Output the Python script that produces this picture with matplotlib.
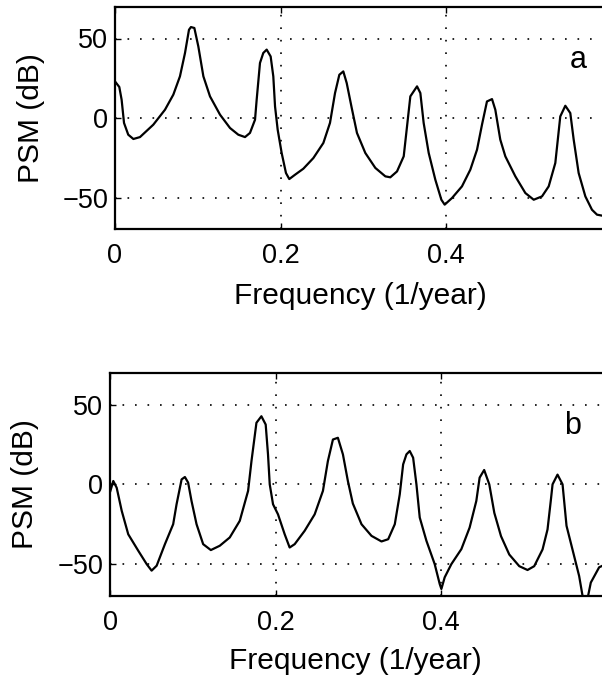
import matplotlib
matplotlib.use("Agg")
import matplotlib.pyplot as plt

plt.rcParams['font.family'] = ['Liberation Sans', 'DejaVu Sans']

# Panel a: frequency (1/year) and PSM (dB)
freq_a = [0, 0.0052, 0.008, 0.0109, 0.016, 0.0222, 0.0302, 0.0463, 0.0604, 0.0705,
          0.0785, 0.0846, 0.0894, 0.0918, 0.0959, 0.1007, 0.1068, 0.1148, 0.1269, 0.139,
          0.149, 0.1571, 0.1631, 0.1692, 0.1712, 0.1752, 0.1792, 0.1833, 0.1881, 0.1913,
          0.1934, 0.1966, 0.2014, 0.2066, 0.2106, 0.2175, 0.2276, 0.2397, 0.2518, 0.2598,
          0.2659, 0.2711, 0.2759, 0.28, 0.286, 0.2924, 0.3025, 0.3146, 0.3267, 0.3327,
          0.3408, 0.3489, 0.3529, 0.3569, 0.361, 0.365, 0.369, 0.373, 0.3791, 0.3871,
          0.3944, 0.3984, 0.4073, 0.4193, 0.4294, 0.4375, 0.4435, 0.4495, 0.4556, 0.4596,
          0.4656, 0.4717, 0.4838, 0.4959, 0.506, 0.516, 0.5241, 0.5321, 0.5381, 0.5442,
          0.5502, 0.5543, 0.5603, 0.5684, 0.5764, 0.5825, 0.5885, 0.6]
psm_a = [23, 19.5, 11.5, -3.1, -10.5, -13.2, -12, -4.2, 5.2, 14.7,
         26.2, 40.9, 55.5, 57.2, 56.6, 45, 26.2, 13.6, 2.1, -6.3,
         -10.5, -12, -9.4, -1.1, 11.5, 34.6, 40.9, 43, 38.7, 26.2,
         7.3, -7.4, -22, -34.6, -38.4, -35.7, -31.9, -25.2, -15.7, -3.1,
         15.7, 27.2, 29.3, 22, 6.5, -9.4, -22, -31.4, -36.7, -37.3,
         -33.6, -24.1, -5.3, 13.6, 16.8, 19.9, 15.7, -3.1, -22, -38.8,
         -51.4, -54.5, -50.3, -43, -32.5, -19.9, -4.2, 10.4, 11.9, 5.2,
         -13.6, -24.1, -36.7, -47.2, -51.4, -49.3, -43, -28.3, 1, 7.7,
         3.1, -13.6, -34.6, -49.3, -57.7, -60.8, -61.4, -61.5]

# Panel b
freq_b = [0, 0.0035, 0.0076, 0.0137, 0.0216, 0.0337, 0.0439, 0.0499, 0.056, 0.066,
          0.076, 0.0801, 0.0862, 0.0902, 0.0941, 0.0982, 0.1043, 0.1123, 0.1216, 0.1324,
          0.1445, 0.1566, 0.1667, 0.1708, 0.1768, 0.1828, 0.188, 0.1908, 0.1929, 0.1969,
          0.2029, 0.211, 0.217, 0.2231, 0.2352, 0.2473, 0.2573, 0.2633, 0.2694, 0.2754,
          0.2815, 0.2875, 0.2935, 0.304, 0.3161, 0.3282, 0.3363, 0.3443, 0.3503, 0.3544,
          0.3584, 0.3624, 0.3665, 0.3705, 0.3745, 0.3826, 0.3926, 0.3987, 0.4007, 0.4047,
          0.4128, 0.4249, 0.4349, 0.443, 0.447, 0.4525, 0.4587, 0.4648, 0.4729, 0.4829,
          0.495, 0.505, 0.5131, 0.5232, 0.5292, 0.5333, 0.5353, 0.5413, 0.5474, 0.5522,
          0.5594, 0.5675, 0.5723, 0.5775, 0.5816, 0.5917, 0.6]
psm_b = [-4.1, 2.1, -2.1, -16.6, -31.3, -41.6, -50, -54.1, -51, -37.5,
         -25, -12.5, 3.1, 4.6, 1.1, -10.4, -25, -37.5, -41.2, -38.5,
         -33.3, -22.9, -4.1, 14.6, 38.6, 42.7, 37.5, 18.8, 0, -12.5,
         -18.8, -31.3, -39.6, -37.5, -29.1, -18.8, -4.1, 14.6, 28.1, 29.2,
         18.8, 2.1, -12, -25, -32.3, -35.8, -34.4, -25, -6.3, 12.5,
         18.8, 20.9, 16.7, 0, -20.8, -35.4, -50, -62.5, -65.6, -58.3,
         -50, -40.6, -27.1, -10.4, 4.2, 9, 0, -17.9, -32.5, -44,
         -51.3, -53.7, -51.3, -40.8, -28.3, -9.6, 0, 6.1, 0, -26,
         -40.8, -57.5, -72, -72, -61.6, -52, -50]

panel_letters = ['a', 'b']
xticks = [0, 0.2, 0.4]
xtick_labels = ['0', '0.2', '0.4']
yticks = [-50, 0, 50]
yticks_labels = ['\u221250', '0', '50']

fig = plt.figure(figsize=(6.02, 6.84), dpi=100)
positions = [[115/602, 1-229.3/684, 496.5/602, 222.6/684],
             [110.4/602, 1-596/684, 495.6/602, 223.3/684]]
xlab_y = [-0.30, -0.291]
ylab_x = [-0.170, -0.172]
letter_pos = [(0.5595, 31.6), (0.5596, 31.3)]

for i, (fx, fy) in enumerate([(freq_a, psm_a), (freq_b, psm_b)]):
    ax = fig.add_axes(positions[i])
    ax.plot(fx, fy, color='black', lw=1.6)
    ax.set_xlim(0, 0.6)
    ax.set_ylim(-70, 70)
    ax.set_xticks(xticks)
    ax.set_xticklabels(xtick_labels)
    ax.set_yticks(yticks)
    ax.set_yticklabels(yticks_labels)
    ax.tick_params(direction='in', length=4, width=1, labelsize=19.5,
                   top=True, right=False)
    ax.tick_params(axis='x', pad=10)
    ax.tick_params(axis='y', pad=5)
    for s in ax.spines.values():
        s.set_linewidth(1.6)
    ax.grid(True, color='black', linestyle=(0, (1, 6.5)), linewidth=1.2)
    ax.set_xlabel('Frequency (1/year)', fontsize=21.5)
    ax.set_ylabel('PSM (dB)', fontsize=21.5)
    ax.xaxis.label.set_va('center')
    ax.yaxis.label.set_va('center')
    ax.yaxis.label.set_ha('center')
    ax.xaxis.set_label_coords(0.495, xlab_y[i])
    ax.yaxis.set_label_coords(ylab_x[i], 0.5)
    lx, ly = letter_pos[i]
    ax.text(lx, ly, panel_letters[i], fontsize=22, ha='center', va='baseline')

fig.savefig('out.png', dpi=100)
